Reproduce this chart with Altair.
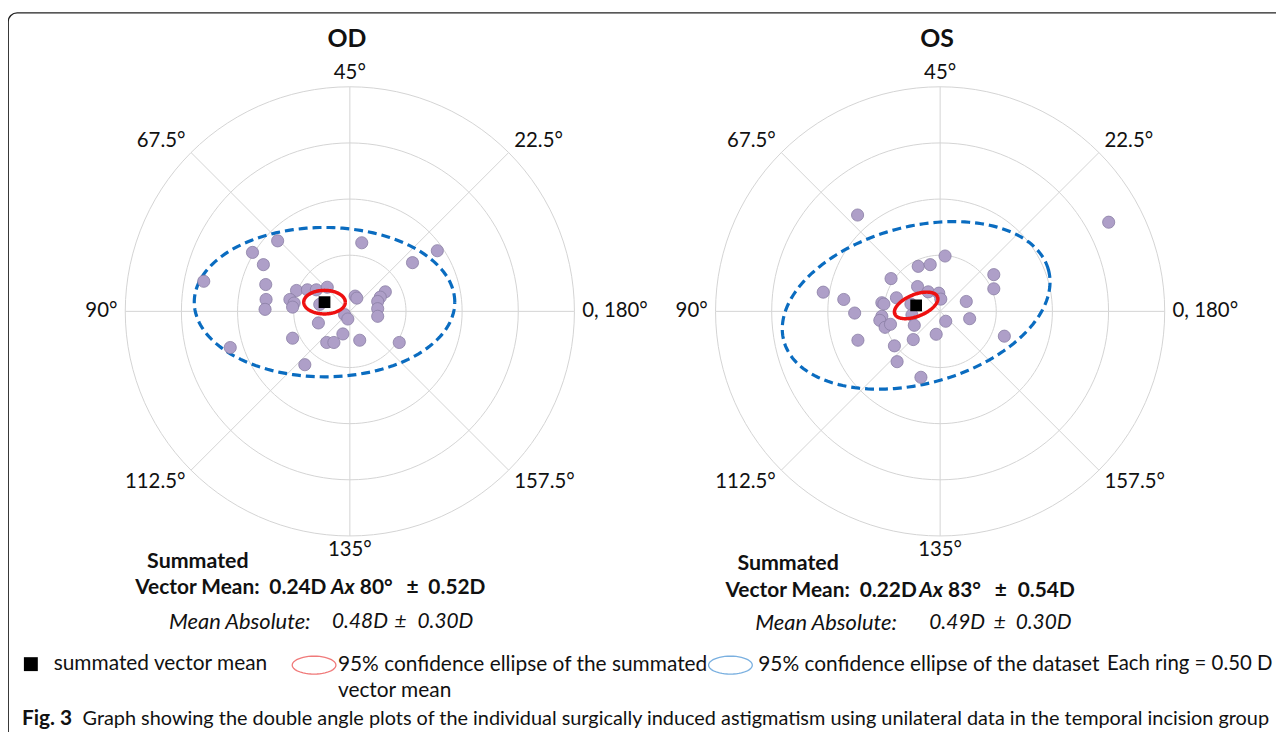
import math
import numpy as np
import pandas as pd
import altair as alt

# ---------------- data (double-angle cartesian coordinates, dioptres) ----------------
od_x = [-0.643, -0.867, -0.770, -1.301, -0.749, -0.746, -0.755, 0.106, 0.558, 0.779,
        -0.475, -0.378, -0.298, -0.201, -0.534, -0.496, -0.510, -0.268, 0.047, 0.062,
        0.316, 0.271, 0.248, 0.248, 0.248, -0.047, -0.018, -0.280, -0.510, -0.062,
        -0.206, -0.142, 0.088, 0.440, -1.065, -0.401]
od_y = [0.628, 0.525, 0.416, 0.268, 0.239, 0.106, 0.018, 0.611, 0.434, 0.540,
        0.186, 0.192, 0.192, 0.215, 0.106, 0.074, 0.038, 0.062, 0.136, 0.118,
        0.174, 0.127, 0.088, 0.024, -0.044, -0.029, -0.068, -0.103, -0.239, -0.201,
        -0.277, -0.277, -0.257, -0.277, -0.322, -0.475]

os_x = [-0.735, 1.501, 0.044, -0.195, -0.088, -0.437, 0.478, 0.478, -1.041, -0.858,
        -0.761, -0.519, -0.501, -0.389, -0.201, -0.106, -0.012, 0.006, -0.260, -0.251,
        0.233, 0.263, 0.050, -0.519, -0.537, -0.490, -0.442, -0.230, -0.035, -0.239,
        -0.732, -0.407, -0.383, -0.171, 0.572]
os_y = [0.858, 0.794, 0.493, 0.401, 0.416, 0.292, 0.327, 0.201, 0.171, 0.106,
        -0.015, 0.077, 0.065, 0.121, 0.221, 0.174, 0.162, 0.109, 0.065, -0.032,
        0.088, -0.065, -0.088, -0.044, -0.080, -0.142, -0.115, -0.124, -0.204, -0.251,
        -0.257, -0.307, -0.448, -0.587, -0.221]

# summated vector means: magnitude (D) and axis (deg)
od_mean = (0.24, 80)
os_mean = (0.22, 83)
# ellipses: semi-major, semi-minor (D), tilt (deg)
od_ci_ellipse = (0.185, 0.105, 0)
od_data_ellipse = (1.16, 0.665, 0)
os_ci_ellipse = (0.205, 0.097, 22)
os_data_ellipse = (1.22, 0.70, 15)

ring_values = [0.5, 1.0, 1.5, 2.0]
axis_values = [0, 22.5, 45, 67.5, 90, 112.5, 135, 157.5]
axis_labels = ["0, 180°", "22.5°", "45°", "67.5°", "90°", "112.5°", "135°", "157.5°"]

# ---------------- layout ----------------
W, H = 1276, 724
K = 113.0           # pixels per dioptre
FONT = "Lato"
PT_FILL, PT_STROKE = "#ae9fc8", "#8a7ea4"
GRID = "#d4d4d4"
one = pd.DataFrame({"k": [0]})


def ellipse_df(cx, cy, a, b, phi_deg, n=181):
    t = np.linspace(0, 2 * np.pi, n)
    p = math.radians(phi_deg)
    x = cx + a * np.cos(t) * math.cos(p) - b * np.sin(t) * math.sin(p)
    y = cy + a * np.cos(t) * math.sin(p) + b * np.sin(t) * math.cos(p)
    return pd.DataFrame({"i": np.arange(n), "x": x, "y": y})


def panel(px, py, mean, ci, de, title, cx, cy):
    xs = alt.Scale(domain=[-cx / K, (W - cx) / K], nice=False, zero=False)
    ys = alt.Scale(domain=[-(H - cy) / K, cy / K], nice=False, zero=False)
    X = alt.X("x:Q", scale=xs, axis=None)
    Y = alt.Y("y:Q", scale=ys, axis=None)

    th = np.radians(np.arange(0, 361, 3))
    rings = pd.concat([pd.DataFrame({"ring": r, "i": np.arange(len(th)),
                                     "x": r * np.cos(th), "y": r * np.sin(th)})
                       for r in ring_values])
    rmax = max(ring_values)
    spokes = pd.DataFrame({
        "x": [0.0] * len(axis_values),
        "y": [0.0] * len(axis_values),
        "x2": [rmax * math.cos(math.radians(2 * v)) for v in axis_values],
        "y2": [rmax * math.sin(math.radians(2 * v)) for v in axis_values],
    })
    mx = mean[0] * math.cos(math.radians(2 * mean[1]))
    my = mean[0] * math.sin(math.radians(2 * mean[1]))
    mean_df = pd.DataFrame({"x": [mx], "y": [my]})
    pts = pd.DataFrame({"x": px, "y": py})

    layers = [
        alt.Chart(rings).mark_line(color=GRID, strokeWidth=1).encode(
            x=X, y=Y, detail="ring:N", order="i:Q"),
        alt.Chart(spokes).mark_rule(color=GRID, strokeWidth=1).encode(
            x=X, y=Y, x2="x2:Q", y2="y2:Q"),
        alt.Chart(ellipse_df(mx, my, *de)).mark_line(
            color="#0a6cc0", strokeWidth=3.2, strokeDash=[9, 5]).encode(
            x=X, y=Y, order="i:Q"),
        alt.Chart(pts).mark_circle(size=150, fill=PT_FILL, stroke=PT_STROKE,
                                   strokeWidth=0.8, opacity=1).encode(x=X, y=Y),
        alt.Chart(ellipse_df(mx, my, *ci)).mark_line(
            color="#ee1010", strokeWidth=3.5).encode(x=X, y=Y, order="i:Q"),
        alt.Chart(mean_df).mark_square(size=140, color="black", opacity=1).encode(x=X, y=Y),
    ]
    # angle labels around the outer ring
    R = rmax + 0.07
    for lab, v in zip(axis_labels, axis_values):
        c, s = math.cos(math.radians(2 * v)), math.sin(math.radians(2 * v))
        align = "left" if c > 0.2 else ("right" if c < -0.2 else "center")
        base = "alphabetic" if s > 0.2 else ("top" if s < -0.2 else "middle")
        dy = -4 if base == "top" else 0
        layers.append(
            alt.Chart(pd.DataFrame({"x": [R * c], "y": [R * s], "t": [lab]})).mark_text(
                font=FONT, fontSize=20.5, color="#111", align=align, baseline=base, dy=dy
            ).encode(x=X, y=Y, text="t:N"))
    layers.append(
        alt.Chart(pd.DataFrame({"x": [0.0], "y": [0.0], "t": [title]})).mark_text(
            font=FONT, fontSize=25, fontWeight="bold", color="#111", dy=-274, dx=-3
        ).encode(x=X, y=Y, text="t:N"))
    return alt.layer(*layers)


def txt(s, x, y, size=21, bold=False, italic=False, color="#111"):
    return alt.Chart(one).mark_text(
        text=s, font=FONT, fontSize=size, fontWeight="bold" if bold else "normal",
        fontStyle="italic" if italic else "normal", align="left", baseline="middle",
        color=color).encode(x=alt.value(x - 8), y=alt.value(y - 8))


def ell_shape(ratio=0.41, n=48):
    t = np.linspace(0, 2 * np.pi, n, endpoint=False)
    pts = [f"{math.cos(a):.3f},{ratio * math.sin(a):.3f}" for a in t]
    return "M" + " L".join(pts) + " Z"


ELL = ell_shape()

texts = [
    # OD summary
    txt("Summated", 148, 563, 21.5, bold=True),
    txt("Vector Mean:", 136, 589, 21, bold=True),
    txt("0.24D", 271, 589, 21, bold=True),
    txt("Ax", 333, 589, 21, bold=True, italic=True),
    txt("80°", 362, 589, 21, bold=True),
    txt("±", 409, 589, 21, bold=True),
    txt("0.52D", 431, 589, 21, bold=True),
    txt("Mean Absolute:", 170, 624, 22, italic=True),
    txt("0.48D", 334, 624, 21, italic=True),
    txt("±", 397, 624, 21, italic=True),
    txt("0.30D", 420, 624, 21, italic=True),
    # OS summary
    txt("Summated", 742, 565, 21.5, bold=True),
    txt("Vector Mean:", 730, 592, 21, bold=True),
    txt("0.22D", 865, 592, 21, bold=True),
    txt("Ax", 925, 592, 21, bold=True, italic=True),
    txt("83°", 954, 592, 21, bold=True),
    txt("±", 1001, 592, 21, bold=True),
    txt("0.54D", 1024, 592, 21, bold=True),
    txt("Mean Absolute:", 760, 625, 22, italic=True),
    txt("0.49D", 935, 625, 21, italic=True),
    txt("±", 1000, 625, 21, italic=True),
    txt("0.30D", 1022, 625, 21, italic=True),
    # legend
    txt("summated vector mean", 54, 666, 21),
    txt("95% confidence ellipse of  the summated", 340, 667, 21),
    txt("vector mean", 340, 693, 21),
    txt("95% confidence ellipse of the dataset", 763, 667, 21),
    txt("Each ring = 0.50 D", 1114, 666, 20.5),
    # caption
    txt("Fig. 3", 22, 721, 21, bold=True),
    txt("Graph showing the double angle plots of the individual surgically induced "
        "astigmatism using unilateral data in the temporal incision group", 83, 721, 20),
]

legend_marks = [
    alt.Chart(one).mark_square(size=196, color="black", opacity=1).encode(
        x=alt.value(31 - 8), y=alt.value(666 - 8)),
    alt.Chart(one).mark_point(shape=ELL, size=44 * 44, filled=False, color="#f07a7a",
                              strokeWidth=1.3, opacity=1).encode(
        x=alt.value(316 - 8), y=alt.value(667 - 8)),
    alt.Chart(one).mark_point(shape=ELL, size=44 * 44, filled=False, color="#7ab0e0",
                              strokeWidth=1.3, opacity=1).encode(
        x=alt.value(735 - 8), y=alt.value(667 - 8)),
]

border = alt.Chart(one).mark_rect(
    fillOpacity=0, stroke="#222", strokeWidth=1.4, cornerRadius=9).encode(
    x=alt.value(0.2), x2=alt.value(W + 40), y=alt.value(2.6), y2=alt.value(H + 40))

od_panel = panel(od_x, od_y, od_mean, od_ci_ellipse, od_data_ellipse, "OD", 344, 303)
os_panel = panel(os_x, os_y, os_mean, os_ci_ellipse, os_data_ellipse, "OS", 938, 303)

chart = alt.layer(border, od_panel, os_panel, *legend_marks, *texts).resolve_scale(
    x="independent", y="independent"
).properties(
    width=W, height=H, autosize="none", padding=0, background="white"
).configure_view(stroke=None)

chart.save("out.html", embed_options={"renderer": "svg", "actions": False})
